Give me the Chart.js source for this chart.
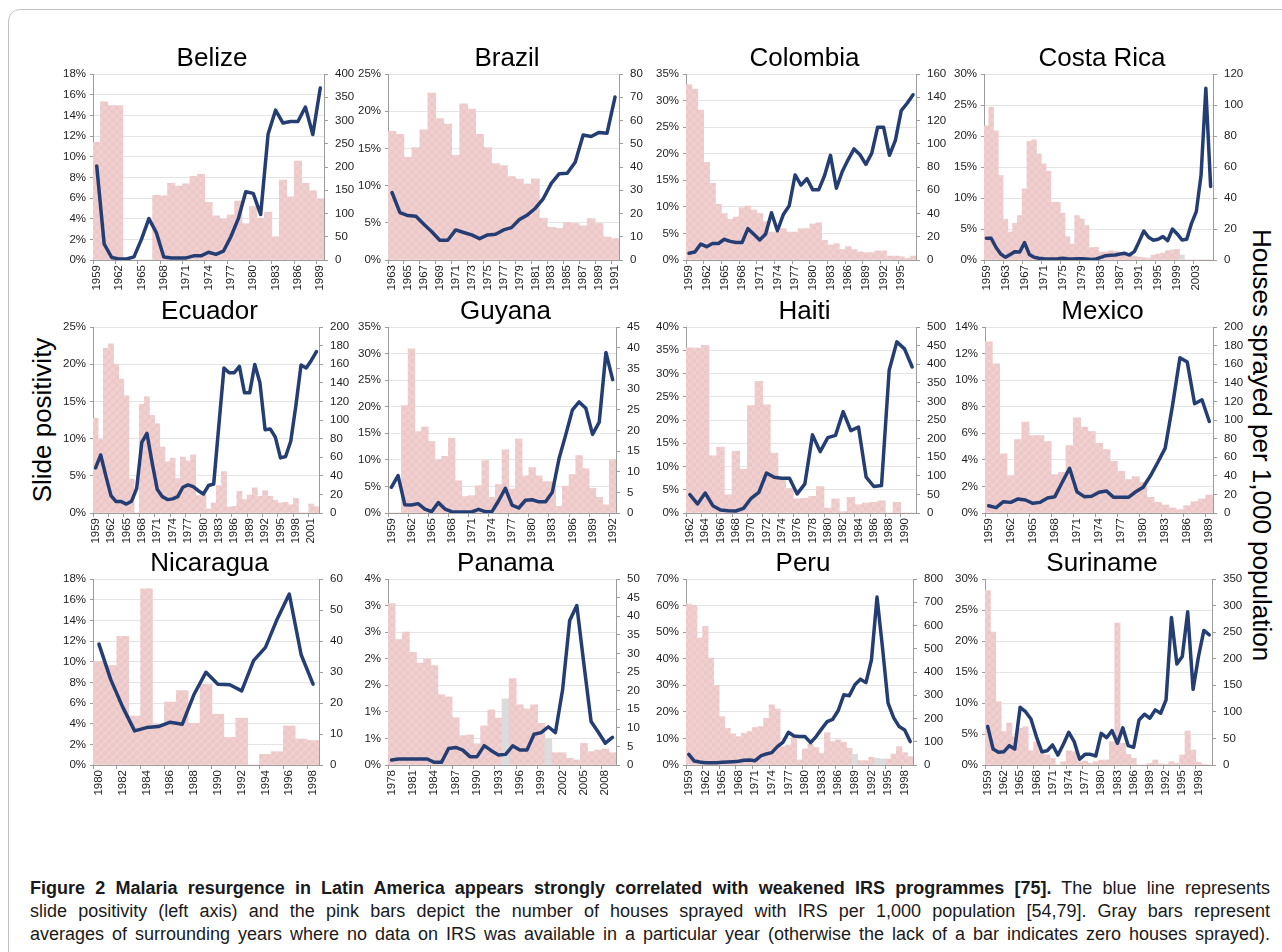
<!DOCTYPE html>
<html>
<head>
<meta charset="utf-8">
<script src="https://cdn.jsdelivr.net/npm/chart.js@4.4.1/dist/chart.umd.min.js"></script>
<style>
html,body{margin:0;padding:0;background:#fff;}
body{width:1282px;height:952px;position:relative;overflow:hidden;font-family:"Liberation Sans",Arial,sans-serif;}
.frame{position:absolute;left:8px;top:9px;width:1300px;height:1000px;border:1px solid #c4c4c4;border-radius:12px;box-sizing:border-box;}
canvas{position:absolute;}
.side{position:absolute;font-size:26px;color:#000;white-space:nowrap;line-height:30px;}
.cap{position:absolute;left:30px;width:1240px;font-size:18px;line-height:23px;color:#1a1a1a;text-align:justify;text-align-last:justify;white-space:nowrap;}
</style>
</head>
<body>
<div class="frame"></div>
<div class="side" style="left:42px;top:420px;transform:translate(-50%,-50%) rotate(-90deg);">Slide positivity</div>
<div class="side" style="left:1262px;top:445px;transform:translate(-50%,-50%) rotate(90deg);">Houses sprayed per 1,000 population</div>
<div class="cap" style="top:877px;"><b>Figure 2 Malaria resurgence in Latin America appears strongly correlated with weakened IRS programmes [75].</b> The blue line represents</div>
<div class="cap" style="top:900px;">slide positivity (left axis) and the pink bars depict the number of houses sprayed with IRS per 1,000 population [54,79]. Gray bars represent</div>
<div class="cap" style="top:923px;">averages of surrounding years where no data on IRS was available in a particular year (otherwise the lack of a bar indicates zero houses sprayed).</div>
<script>
// ---------------- DATA ----------------
const belizeYears = [1959,1960,1961,1962,1963,1964,1965,1966,1967,1968,1969,1970,1971,1972,1973,1974,1975,1976,1977,1978,1979,1980,1981,1982,1983,1984,1985,1986,1987,1988,1989];
const belizeSlidePos = [9.1,1.55,0.25,0.1,0.1,0.3,2.0,4.0,2.65,0.3,0.2,0.2,0.2,0.4,0.4,0.75,0.55,0.85,2.25,4.0,6.6,6.45,4.4,12.2,14.5,13.25,13.4,13.4,14.8,12.15,16.65];
const belizeHouses = [253,340,332,332,0,0,0,0,139,138,165,159,164,180,184,124,95,88,97,127,78,115,90,103,50,172,136,213,165,149,131];
const belizeGrayYears = [];

const brazilYears = [1963,1964,1965,1966,1967,1968,1969,1970,1971,1972,1973,1974,1975,1976,1977,1978,1979,1980,1981,1982,1983,1984,1985,1986,1987,1988,1989,1990,1991];
const brazilSlidePos = [9.07,6.37,5.97,5.88,4.8,3.8,2.65,2.65,4.04,3.7,3.37,2.87,3.37,3.46,4.04,4.35,5.43,6.06,6.96,8.26,10.3,11.6,11.67,13.15,16.8,16.6,17.15,17.05,21.9];
const brazilHouses = [55.3,54.1,44.2,48.4,56.0,71.8,60.8,58.5,45.0,67.2,64.9,54.1,48.4,41.5,40.6,35.9,34.8,32.7,34.9,18.0,14.1,13.6,16.1,15.7,14.7,17.8,15.7,9.9,9.2];
const brazilGrayYears = [];

const colombiaYears = [1959,1960,1961,1962,1963,1964,1965,1966,1967,1968,1969,1970,1971,1972,1973,1974,1975,1976,1977,1978,1979,1980,1981,1982,1983,1984,1985,1986,1987,1988,1989,1990,1991,1992,1993,1994,1995,1996,1997];
const colombiaSlidePos = [1.26,1.5,3.0,2.5,3.1,3.1,3.9,3.5,3.3,3.3,5.9,4.84,3.77,4.9,8.9,5.5,8.55,10.2,16.0,14.1,15.3,13.2,13.2,15.9,19.7,13.5,16.65,18.9,20.9,19.8,18.0,20.1,25.0,25.0,19.7,22.5,28.1,29.5,31.1];
const colombiaHouses = [151,147,129,84,66,48,40,35,37,45,46.5,43,40,33,24,24,27,24,24,27,27,31,32,17,13,14,9,11.5,9,7,6.3,6.3,7.8,7.8,3.4,3.4,2.9,1.4,3.4];
const colombiaGrayYears = [];

const costaRicaYears = [1959,1960,1961,1962,1963,1964,1965,1966,1967,1968,1969,1970,1971,1972,1973,1974,1975,1976,1977,1978,1979,1980,1981,1982,1983,1984,1985,1986,1987,1988,1989,1990,1991,1992,1993,1994,1995,1996,1997,1998,1999,2000,2001,2002,2003,2004,2005,2006];
const costaRicaSlidePos = [3.5,3.5,2.05,0.97,0.43,0.9,1.35,1.3,2.8,0.9,0.43,0.27,0.2,0.16,0.16,0.2,0.27,0.2,0.16,0.2,0.2,0.16,0.1,0.16,0.43,0.7,0.75,0.8,0.97,1.08,0.8,1.35,2.96,4.68,3.66,3.18,3.34,3.77,3.12,5.0,4.2,3.23,3.34,5.92,7.8,13.7,27.7,11.85];
const costaRicaHouses = [86.6,98.5,83.4,54.5,26.3,18.1,23.7,28.7,45.9,76.5,77.6,68.5,62.1,57.3,37.3,37.3,30.2,15.1,10.3,28.7,26.5,22.2,8.0,8.2,5.2,5.2,6.0,5.6,5.0,5.2,3.7,2.6,1.9,1.5,1.1,3.2,3.9,4.5,6.0,6.5,6.9,3.2,0,0,0,0,0,0];
const costaRicaGrayYears = [2000];

const ecuadorYears = [1959,1960,1961,1962,1963,1964,1965,1966,1967,1968,1969,1970,1971,1972,1973,1974,1975,1976,1977,1978,1979,1980,1981,1982,1983,1984,1985,1986,1987,1988,1989,1990,1991,1992,1993,1994,1995,1996,1997,1998,1999,2000,2001,2002];
const ecuadorSlidePos = [6.06,7.8,5.0,2.33,1.53,1.53,1.2,1.57,3.3,9.5,10.7,6.8,3.2,2.2,1.8,1.9,2.2,3.46,3.77,3.55,3.0,2.56,3.7,3.9,11.76,19.5,18.85,18.85,19.7,16.15,16.15,19.97,17.5,11.2,11.3,10.2,7.4,7.6,9.65,14.45,19.9,19.5,20.5,21.7];
const ecuadorHouses = [102,79,177,182,160,144,126,36.6,0,117,125,105,96,71,55,59,37,60,56,62.5,18.7,23,4.3,10.8,29.4,44.5,6.5,7.2,23.3,14.4,19.4,27,18,24,18,13.6,10.8,11.5,8.9,15.8,0,0,9.7,6.8];
const ecuadorGrayYears = [];

const guyanaYears = [1959,1960,1961,1962,1963,1964,1965,1966,1967,1968,1969,1970,1971,1972,1973,1974,1975,1976,1977,1978,1979,1980,1981,1982,1983,1984,1985,1986,1987,1988,1989,1990,1991,1992];
const guyanaSlidePos = [4.84,7.04,1.57,1.5,1.76,0.75,0.25,1.95,0.75,0.25,0.19,0.19,0.19,0.7,0.25,0.25,2.3,4.65,1.5,0.94,2.4,2.5,2.1,2.1,3.9,10.2,14.7,19.4,20.9,19.7,14.8,17.1,30.2,25.1];
const guyanaHouses = [0,0,26.0,39.7,19.7,20.8,17.3,12.9,13.7,18.1,7.8,4.0,4.2,6.6,12.7,3.8,6.9,15.3,5.8,17.9,9.0,11.0,9.0,7.6,7.6,1.6,6.5,9.3,13.9,10.7,6.0,3.8,2.0,12.9];
const guyanaGrayYears = [];

const haitiYears = [1962,1963,1964,1965,1966,1967,1968,1969,1970,1971,1972,1973,1974,1975,1976,1977,1978,1979,1980,1981,1982,1983,1984,1985,1986,1987,1988,1989,1990,1991];
const haitiSlidePos = [3.95,1.94,4.3,1.58,0.65,0.5,0.43,1.0,3.16,4.45,8.6,7.7,7.47,7.47,4.1,6.25,16.8,13.2,16.2,16.7,21.8,17.7,18.5,7.7,5.7,5.9,30.7,36.8,35.3,31.4];
const haitiHouses = [444,443,451,154,177,49,166,118,289,354,291,161,96,66,38,39.5,45,71,13.5,38,3.6,42,22.4,27,28.7,33,0,28.7,0,0];
const haitiGrayYears = [];

const mexicoYears = [1959,1960,1961,1962,1963,1964,1965,1966,1967,1968,1969,1970,1971,1972,1973,1974,1975,1976,1977,1978,1979,1980,1981,1982,1983,1984,1985,1986,1987,1988,1989];
const mexicoSlidePos = [0.55,0.4,0.85,0.8,1.06,0.98,0.73,0.8,1.13,1.23,2.31,3.37,1.6,1.23,1.26,1.56,1.66,1.18,1.18,1.18,1.6,1.94,2.8,3.82,4.88,8.1,11.69,11.36,8.22,8.52,6.89];
const mexicoHouses = [184,160.5,63.6,40.2,79,97.7,83.3,83.3,76.8,41.3,43.8,72.5,102.3,92.3,87.6,75,68.2,55.7,44.9,36,39.1,33,16.9,11.5,8.6,5.4,3.6,7.9,12.2,15.1,19.4];
const mexicoGrayYears = [];

const nicaraguaYears = [1980,1981,1982,1983,1984,1985,1986,1987,1988,1989,1990,1991,1992,1993,1994,1995,1996,1997,1998];
const nicaraguaSlidePos = [11.7,8.24,5.6,3.3,3.62,3.72,4.14,3.94,6.85,8.98,7.82,7.76,7.17,10.1,11.38,14.16,16.55,10.67,7.82];
const nicaraguaHouses = [33.4,32.1,41.5,15.8,56.8,13.1,20.3,24.0,13.5,26.1,16.4,8.9,15.1,0,3.45,4.3,12.6,8.4,7.9];
const nicaraguaGrayYears = [];

const panamaYears = [1978,1979,1980,1981,1982,1983,1984,1985,1986,1987,1988,1989,1990,1991,1992,1993,1994,1995,1996,1997,1998,1999,2000,2001,2002,2003,2004,2005,2006,2007,2008,2009];
const panamaSlidePos = [0.094,0.113,0.113,0.113,0.113,0.113,0.05,0.05,0.31,0.33,0.28,0.157,0.157,0.365,0.27,0.19,0.2,0.36,0.28,0.28,0.58,0.61,0.72,0.61,1.41,2.72,3.0,1.89,0.82,0.62,0.41,0.52];
const panamaHouses = [43.4,33.7,35.7,30.3,27.4,28.5,26.7,18.9,18.3,12.7,7.9,8.1,5.7,10.5,14.8,12.6,17.8,23.2,16.2,15.1,16.2,11.2,7.2,3.3,3.3,1.8,1.35,5.8,3.6,4.0,4.3,3.3];
const panamaGrayYears = [1994,2000];

const peruYears = [1959,1960,1961,1962,1963,1964,1965,1966,1967,1968,1969,1970,1971,1972,1973,1974,1975,1976,1977,1978,1979,1980,1981,1982,1983,1984,1985,1986,1987,1988,1989,1990,1991,1992,1993,1994,1995,1996,1997,1998,1999];
const peruSlidePos = [4.0,1.5,1.13,0.88,0.88,0.88,1.0,1.13,1.26,1.38,1.76,1.89,1.63,3.4,4.15,4.65,6.9,8.55,12.3,10.9,10.7,10.7,8.4,10.7,13.6,16.3,17.2,20.5,26.4,26.1,30.2,32.3,31.0,39.6,63.2,44.0,23.25,17.85,14.45,13.2,8.8];
const peruHouses = [692,687,546,596,460,342,208,158,134,122,136,144,161,165,201,259,241,79,86,118,21.5,69,89,75,50,139,101,108,98,72,46,18.7,18.7,33,28.7,25.9,25.9,47.4,79,53,36];
const peruGrayYears = [1989,1993,1994];

const surinameYears = [1959,1960,1961,1962,1963,1964,1965,1966,1967,1968,1969,1970,1971,1972,1973,1974,1975,1976,1977,1978,1979,1980,1981,1982,1983,1984,1985,1986,1987,1988,1989,1990,1991,1992,1993,1994,1995,1996,1997,1998,1999,2000];
const surinameSlidePos = [6.2,2.58,2.05,2.15,3.12,2.58,9.3,8.6,7.43,4.58,2.15,2.3,3.23,1.6,3.34,5.28,3.77,0.92,1.72,1.72,1.45,5.1,4.4,5.55,3.5,6.0,3.12,2.85,7.27,8.19,7.54,8.89,8.35,10.5,23.8,16.3,17.5,24.7,12.2,17.5,21.7,21.0];
const surinameHouses = [328,250,119,63,79,53,69,72,27,43,22,19,12.6,0,6.3,27,25,6.3,7.5,3.1,6.3,9.4,9.4,44,267,41,20,12.6,0,0,3,9.4,2,1.3,6.3,3,19,64,28,5,1.3,0];
const surinameGrayYears = [];

// axis ranges: slide positivity max/step (%), houses max/step, year label interval
const panels = [
  {title:'Belize',     years:belizeYears,    sp:belizeSlidePos,    houses:belizeHouses,    gray:belizeGrayYears,    spMax:18,  spStep:2,   hMax:400, hStep:50,  every:3},
  {title:'Brazil',     years:brazilYears,    sp:brazilSlidePos,    houses:brazilHouses,    gray:brazilGrayYears,    spMax:25,  spStep:5,   hMax:80,  hStep:10,  every:2},
  {title:'Colombia',   years:colombiaYears,  sp:colombiaSlidePos,  houses:colombiaHouses,  gray:colombiaGrayYears,  spMax:35,  spStep:5,   hMax:160, hStep:20,  every:3},
  {title:'Costa Rica', years:costaRicaYears, sp:costaRicaSlidePos, houses:costaRicaHouses, gray:costaRicaGrayYears, spMax:30,  spStep:5,   hMax:120, hStep:20,  every:4},
  {title:'Ecuador',    years:ecuadorYears,   sp:ecuadorSlidePos,   houses:ecuadorHouses,   gray:ecuadorGrayYears,   spMax:25,  spStep:5,   hMax:200, hStep:20,  every:3},
  {title:'Guyana',     years:guyanaYears,    sp:guyanaSlidePos,    houses:guyanaHouses,    gray:guyanaGrayYears,    spMax:35,  spStep:5,   hMax:45,  hStep:5,   every:3},
  {title:'Haiti',      years:haitiYears,     sp:haitiSlidePos,     houses:haitiHouses,     gray:haitiGrayYears,     spMax:40,  spStep:5,   hMax:500, hStep:50,  every:2},
  {title:'Mexico',     years:mexicoYears,    sp:mexicoSlidePos,    houses:mexicoHouses,    gray:mexicoGrayYears,    spMax:14,  spStep:2,   hMax:200, hStep:20,  every:3},
  {title:'Nicaragua',  years:nicaraguaYears, sp:nicaraguaSlidePos, houses:nicaraguaHouses, gray:nicaraguaGrayYears, spMax:18,  spStep:2,   hMax:60,  hStep:10,  every:2},
  {title:'Panama',     years:panamaYears,    sp:panamaSlidePos,    houses:panamaHouses,    gray:panamaGrayYears,    spMax:3.5, spStep:0.5, hMax:50,  hStep:5,   every:3},
  {title:'Peru',       years:peruYears,      sp:peruSlidePos,      houses:peruHouses,      gray:peruGrayYears,      spMax:70,  spStep:10,  hMax:800, hStep:100, every:3},
  {title:'Suriname',   years:surinameYears,  sp:surinameSlidePos,  houses:surinameHouses,  gray:surinameGrayYears,  spMax:30,  spStep:5,   hMax:350, hStep:50,  every:3}
];

// ---------------- LAYOUT (positions only) ----------------
const rowPlotTop = [74, 327, 579];
const plotBox = [
  [0, 93, 324], [0, 388, 619], [0, 686, 916], [0, 984, 1213],
  [1, 93, 319], [1, 388, 616], [1, 686, 916], [1, 985, 1213],
  [2, 93, 319], [2, 388, 616], [2, 686, 913], [2, 985, 1212]
];
const LEFT_W = 46, RIGHT_W = 53, TITLE_H = 40, PLOT_H = 186, XAX_H = 45;
const FONT = '"Liberation Sans", Arial, Helvetica, sans-serif';
const NAVY = '#243e74', AXIS = '#9c9c9c', GRID = '#e4e4e4', TICK = '#1e1e1e', GRAYBAR = '#dcdcdc';

Chart.defaults.font.family = FONT;
Chart.defaults.color = TICK;

function makePinkPattern(){
  const c = document.createElement('canvas'); c.width = 8; c.height = 8;
  const g = c.getContext('2d');
  g.fillStyle = '#edc8c8'; g.fillRect(0,0,8,8);
  g.fillStyle = '#f0cfcf'; g.fillRect(0,0,4,4); g.fillRect(4,4,4,4);
  return g.createPattern(c, 'repeat');
}
const PINK = makePinkPattern();

function pctLabel(v){ return Math.round(v + 1e-9) + '%'; }

panels.forEach((p, k) => {
  const [row, pl, pr] = plotBox[k];
  const W = (pr - pl) + LEFT_W + RIGHT_W;
  const H = TITLE_H + PLOT_H + XAX_H;
  const cv = document.createElement('canvas');
  cv.width = W; cv.height = H;
  cv.style.left = (pl - LEFT_W) + 'px';
  cv.style.top = (rowPlotTop[row] - TITLE_H) + 'px';
  cv.style.width = W + 'px'; cv.style.height = H + 'px';
  document.body.appendChild(cv);
  const graySet = new Set(p.gray);
  const tickFont = {size: 11.5, family: FONT};
  new Chart(cv, {
    type: 'bar',
    data: {
      labels: p.years.map(String),
      datasets: [
        {type:'line', label:'Slide positivity', data:p.sp, yAxisID:'y', borderColor:NAVY, borderWidth:3.5,
         pointRadius:0, pointHoverRadius:0, tension:0, order:0, borderJoinStyle:'round', borderCapStyle:'round', fill:false},
        {type:'bar', label:'Houses sprayed per 1,000', data:p.houses, yAxisID:'y1',
         backgroundColor: p.years.map(y => graySet.has(y) ? GRAYBAR : PINK),
         barPercentage:1, categoryPercentage:1, borderWidth:0, order:1}
      ]
    },
    options: {
      responsive:false, animation:false, devicePixelRatio:1,
      layout:{padding:0},
      events: [],
      plugins:{
        legend:{display:false}, tooltip:{enabled:false},
        title:{display:true, text:p.title, color:'#000',
               font:{size:26, weight:'normal', family:FONT, lineHeight:1.1},
               padding:{top:10.7, bottom:0.7}}
      },
      scales:{
        x:{
          type:'category', offset:true,
          grid:{display:true, drawOnChartArea:false, drawTicks:true, tickLength:4, offset:true,
                color: ctx => (ctx.index !== undefined && ctx.index % p.every === 0) ? AXIS : 'rgba(0,0,0,0)'},
          border:{display:true, color:AXIS, width:1},
          ticks:{autoSkip:false, minRotation:90, maxRotation:90, padding:1, color:TICK, font:tickFont,
                 callback:function(v, i){ return i % p.every === 0 ? this.getLabelForValue(v) : ''; }},
          afterFit: s => { s.height = XAX_H; }
        },
        y:{
          position:'left', min:0, max:p.spMax,
          ticks:{stepSize:p.spStep, padding:4, color:TICK, font:tickFont, callback: v => pctLabel(v)},
          grid:{color:GRID, tickColor:AXIS, tickLength:3, drawTicks:true},
          border:{display:true, color:AXIS},
          afterFit: s => { s.width = LEFT_W; }
        },
        y1:{
          position:'right', min:0, max:p.hMax,
          ticks:{stepSize:p.hStep, padding:7, color:TICK, font:tickFont},
          grid:{drawOnChartArea:false, color:AXIS, tickLength:4, drawTicks:true},
          border:{display:true, color:AXIS},
          afterFit: s => { s.width = RIGHT_W; }
        }
      }
    }
  });
});
</script>
</body>
</html>
